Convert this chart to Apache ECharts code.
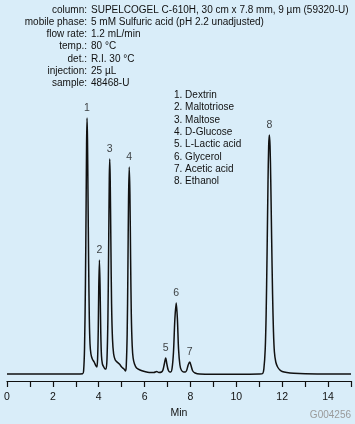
<!DOCTYPE html>
<html>
<head>
<meta charset="utf-8">
<script src="https://cdn.jsdelivr.net/npm/echarts@6/dist/echarts.min.js"></script>
<style>
html,body{margin:0;padding:0;background:#d9edf9;}
#c{width:355px;height:424px;}
</style>
</head>
<body>
<div id="c"></div>
<script>
// Chromatogram trace (time in min, detector signal in arbitrary units)
var times = [0,1,2,3,3.3,
  3.34,3.38,3.42,3.45,3.47,3.49,3.51,3.53,3.56,3.59,3.62,3.66,3.72,3.8,3.88,3.92,
  3.95,3.98,4.0,4.03,4.06,4.09,4.12,4.16,4.22,4.28,4.32,
  4.36,4.4,4.43,4.46,4.48,4.5,4.53,4.56,4.6,4.65,4.72,4.8,4.9,5.0,5.1,5.17,
  5.2,5.24,5.27,5.3,5.33,5.36,5.39,5.42,5.46,5.5,5.56,5.65,5.8,6.0,6.2,6.4,6.53,6.62,6.74,
  6.8,6.86,6.92,6.97,7.03,7.1,7.14,
  7.2,7.26,7.32,7.38,7.43,7.48,7.54,7.6,7.7,7.78,
  7.84,7.9,7.97,8.03,8.1,8.2,8.4,9,10,11,11.15,
  11.2,11.26,11.3,11.34,11.38,11.41,11.44,11.47,11.5,11.54,11.58,11.62,11.66,11.72,11.8,11.9,12.0,12.2,12.5,13,14,15];
var signal = [0,0,0,0,0.3,
  3,25,90,170,230,256,235,185,110,55,30,20,15,12,8,7,
  15,45,85,114,85,40,18,10,7,5,5,
  15,55,120,195,215,195,130,70,35,20,14,12,10,7,5,3,
  8,40,100,175,207,180,115,60,28,16,10,6,4,2.5,1.5,1.5,2.5,1.5,2,
  4,10,16,10,4,2,2,
  6,22,55,71,55,25,9,4,2,2,
  4,9,12,8,3,1,0,-0.2,-0.2,0,0.5,
  5,25,60,120,190,228,239,228,195,135,80,42,22,12,7,4,2.5,1.5,0.8,0.3,0,0];

// Peak labels
var peakLabels = ['1','2','3','4','5','6','7','8'];
var peakTimes  = [3.49,4.03,4.48,5.33,6.92,7.38,7.97,11.44];
var peakHeights= [256,114,215,207,16,71,12,239];

// Compound list
var compounds = ['1. Dextrin','2. Maltotriose','3. Maltose','4. D-Glucose','5. L-Lactic acid','6. Glycerol','7. Acetic acid','8. Ethanol'];

// Conditions
var infoKeys = ['column:','mobile phase:','flow rate:','temp.:','det.:','injection:','sample:'];
var infoValues = ['SUPELCOGEL C-610H, 30 cm x 7.8 mm, 9 µm (59320-U)','5 mM Sulfuric acid (pH 2.2 unadjusted)','1.2 mL/min','80 °C','R.I. 30 °C','25 µL','48468-U'];

var xTicks = [0,2,4,6,8,10,12,14];

var FONT = 'Liberation Sans, Arial, sans-serif';
var chart = echarts.init(document.getElementById('c'), null, {renderer:'canvas'});

var trace = times.map(function(t,i){return [t, signal[i]];});
var peaks = peakTimes.map(function(t,i){return {value:[t, peakHeights[i]], label:{formatter: peakLabels[i]}};});

var graphics = [];
infoKeys.forEach(function(k,i){
  graphics.push({type:'text', x:87, y:10+i*12.2, style:{text:k, font:'10px '+FONT, fill:'#111', align:'right', verticalAlign:'middle'}});
  graphics.push({type:'text', x:91, y:10+i*12.2, style:{text:infoValues[i], font:'10px '+FONT, fill:'#111', align:'left', verticalAlign:'middle'}});
});
compounds.forEach(function(c,i){
  graphics.push({type:'text', x:174, y:95.3+i*12.3, style:{text:c, font:'10px '+FONT, fill:'#111', align:'left', verticalAlign:'middle'}});
});
graphics.push({type:'text', x:351, y:415.5, style:{text:'G004256', font:'10px '+FONT, fill:'#9a9a9a', align:'right', verticalAlign:'middle'}});

chart.setOption({
  backgroundColor:'#d9edf9',
  animation:false,
  grid:{left:7, right:4, top:114, bottom:43},
  xAxis:{
    type:'value', min:0, max:15, interval:1,
    name:'Min', nameLocation:'middle', nameGap:24,
    nameTextStyle:{fontFamily:FONT, fontSize:10.5, color:'#111'},
    axisLine:{show:true, onZero:false, lineStyle:{color:'#111', width:1.2}},
    axisTick:{show:true, inside:false, length:6, lineStyle:{color:'#111', width:1.2}},
    axisLabel:{margin:11, fontFamily:FONT, fontSize:10.5, color:'#111',
      formatter:function(v){return xTicks.indexOf(v)>=0 ? String(v) : '';}},
    splitLine:{show:false}
  },
  yAxis:{type:'value', min:-7, max:260, show:false, splitLine:{show:false}},
  series:[
    {type:'line', data:trace, showSymbol:false, symbol:'none', smooth:0.3,
     lineStyle:{color:'#111', width:1.5}, silent:true},
    {type:'scatter', data:peaks, symbolSize:0.001, silent:true,
     label:{show:true, position:'top', distance:4, fontFamily:FONT, fontSize:10.5, color:'#111'}}
  ],
  graphic:graphics
});
</script>
</body>
</html>
